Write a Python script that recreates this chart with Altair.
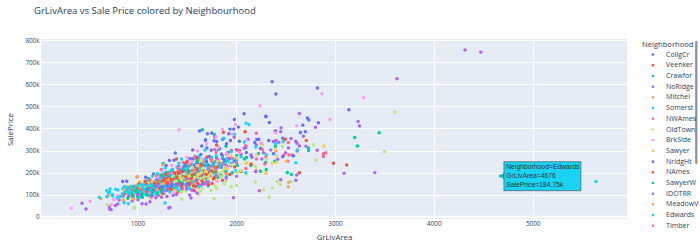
import altair as alt
import pandas as pd

NEIGHBORHOODS = ["CollgCr", "Veenker", "Crawfor", "NoRidge", "Mitchel", "Somerst", "NWAmes",
                 "OldTown", "BrkSide", "Sawyer", "NridgHt", "NAmes", "SawyerW", "IDOTRR",
                 "MeadowV", "Edwards", "Timber", "Gilbert", "StoneBr", "ClearCr", "NPkVill",
                 "Blmngtn", "BrDale", "SWISU", "Blueste"]

# (GrLivArea, SalePrice in thousands)
CollgCr = [(1710,208.5),(1786,223.5),(1262,181.5),(1494,192),(1598,245),(1324,255),(1371,256),(852,160),(893,161),(1040,136),(1144,154),(1204,171),(1228,178),(1268,168),(1302,201),(1329,194),(1354,186),(1386,196),(1414,228),(1436,216),(1458,204),(1484,241),(1507,229),(1522,181),(1549,203),(1573,214),(1604,197),(1626,226),(1647,239),(1666,211),(1693,262),(1728,273),(1752,251),(1774,243),(1802,266),(1834,231),(1861,276),(1888,254),(1918,291),(1953,241),(2004,259),(2048,282),(2097,314),(2158,271),(2247,309),(1117,127),(1063,146),(983,139),(1002,121),(1182,149),(1253,143),(1422,161),(1477,173),(1534,159),(1562,263),(1704,311),(1384,289),(1291,232),(1163,194),(1084,179),(1942,345),(1864,351),(1776,344),(1690,349),(1572,233),(1611,183),(1446,186),(1338,168),(1215,158),(1126,166),
           (1190,165),(1236,188),(1270,176),(1310,185),(1346,207),(1396,181),(1428,199),(1466,221),(1490,178),(1512,212),(1540,193),(1580,221),(1616,205),(1652,188),(1680,232),(1716,219),(1740,199),(1760,231),(1790,208),(1820,247),(1848,224),(1876,239),(1906,228),(1930,262),(1980,252)]
Veenker = [(1262,181),(2090,385),(1802,325),(1503,252),(1652,236),(2498,351),(1396,262),(1950,300),(1704,271),(2984,242),(3119,235),(1563,191)]
Crawfor = [(1717,140),(1658,394),(1779,373),(3447,381),(3200,359),(3227,321),(2518,201),(2559,192),(2731,312),(2733,300),(1254,146),(1497,191),(1383,164),(1604,216),(1698,252),(1822,229),(1903,261),(1452,179),(2006,278),(1103,131),(1548,171),(1297,201),(1962,199),(2148,232),(2297,246),(1198,114),(981,126),(1651,176),(1847,189),(1402,151),(2104,268),(1356,214),(2246,206),(1152,159),(1748,204),(1522,229),(2392,251),(1008,106),(1622,266),(1897,319),(1261,241),(1585,147),(1729,188)]
NoRidge = [(4316,755),(4476,745),(3627,625),(2640,468),(3234,432),(3247,411),(2802,405),(2454,403),(2377,341),(2404,345),(2431,337),(2603,342),(2616,333),(2640,321),(2529,312),(2819,301),(2276,290),(2421,261),(2120,351),(2451,385),(2555,355),(2680,365),(2204,325),(1922,265),(2035,300),(1980,360),(2150,280),(2706,320),(2350,302),(2080,310),(1902,231),(2616,298),(1854,236),(2260,262),(2500,290),(1796,250)]
Mitchel = [(1000,182),(1257,235),(2262,329),(2532,156),(2528,136),(630,83),(994,179),(864,117),(1098,128),(1204,152),(1318,139),(1402,171),(1497,152),(1603,183),(1702,169),(1798,211),(1904,192),(1149,114),(1247,144),(1052,121),(949,99),(1353,162),(1448,146),(1551,174),(1648,197),(1753,256),(2003,266),(1081,154),(1302,131),(1896,226),(2202,211),(1482,209),(1118,101),(1352,127),(1619,131),(1189,159),(926,135),(1422,188),(1290,118),
           (1030,140),(1120,147),(1170,136),(1230,158),(1380,151),(1460,165),(1520,141),(1580,168)]
Somerst = [(2100,424),(2130,418),(2083,339),(2475,340),(2620,303),(1203,196),(1298,178),(1401,224),(1499,207),(1602,251),(1704,229),(1797,276),(1903,262),(1249,171),(1352,213),(1448,186),(1553,238),(1649,205),(1752,268),(1848,239),(1951,296),(2198,316),(2304,281),(1097,161),(1153,184),(1222,152),(1322,194),(1421,242),(1518,199),(1623,274),(1722,219),(1818,302),(2002,249),(2398,331),(1378,167),(1482,228),(1578,189),(1683,301),(1782,248),(1876,356),(1984,374),(1282,221),(1178,139),(1261,201),(1606,231),(1447,262),(1527,176),(1696,258),
           (1230,181),(1270,189),(1330,205),(1360,182),(1410,191),(1460,214),(1510,222),(1540,205),(1570,214),(1640,219),(1670,241),(1710,236),(1740,211),(1770,231),(1830,226),(1860,268),(1890,244),(1920,251),(1970,263),(2050,271)]
NWAmes = [(2528,336),(2265,305),(2883,285),(2883,273),(2907,290),(2482,280),(2533,280),(2563,280),(2522,252),(1797,292),(1102,129),(1198,158),(1304,141),(1397,182),(1503,163),(1598,201),(1703,178),(1802,221),(1898,196),(2003,244),(2098,219),(2206,262),(1253,147),(1348,166),(1452,151),(1547,192),(1652,172),(1748,209),(1853,184),(1947,231),(2052,205),(2148,238),(2302,271),(1147,138),(1053,112),(1418,211),(1524,176),(1618,226),(1721,189),(2402,299),(1812,253),(1587,154),
          (1460,179),(1500,196),(1560,186),(1640,189),(1680,208),(1760,196),(1880,206),(1560,214)]
OldTown = [(3608,475),(3500,295),(2468,318),(2417,160),(2556,159),(2367,130),(2333,90),(1776,83),(1449,79),(724,55),(973,41),(968,40),(693,55),(2276,121),(2782,326),(2806,256),(1302,152),(1398,124),(1502,171),(1603,139),(1698,186),(1802,128),(1897,163),(2004,142),(2101,194),(2198,158),(1098,98),(1003,118),(902,84),(806,97),(1201,134),(1248,108),(1352,146),(1447,113),(1553,149),(1648,168),(1746,119),(1852,181),(1951,136),(1152,126),(1048,89),(947,103),(853,76),(1381,178),(1622,102),(2298,199),(2447,146),(1221,161),(1323,119),(1478,138),(1583,189),(1682,154),(1418,192),(1562,127),(1703,201),(1641,117),(1262,143),(1164,112),(1534,161),(1766,172),(985,131),
           (1080,126),(1130,92),(1180,141),(1230,98),(1280,131),(1330,157),(1370,121),(1410,137),(1460,156),(1490,118),(1520,146),(1600,152),(1660,131),(1720,160),(1790,140),(1880,150),(1070,112),(940,92),(880,109),(1120,118)]
BrkSide = [(334,39.3),(521,70),(733,55),(1004,112),(1096,119),(1207,131),(1296,124),(1398,141),(902,104),(804,94),(1504,133),(1594,152),(1704,146),(1048,98),(1152,116),(948,89),(1252,113),(1348,156),(1452,172),(1802,161),(1124,138),(870,122),(1206,96),(1580,118),(1030,128),(760,78),(1372,109),(1656,176),(1176,152),(986,141),
           (940,110),(1080,106),(1160,127),(1260,138),(1320,118)]
Sawyer = [(2265,329),(2407,247),(2363,242),(864,124),(903,138),(948,112),(1002,146),(1051,127),(1098,151),(1152,132),(1202,157),(1249,141),(1298,169),(1352,136),(1403,158),(1447,174),(1502,147),(1553,179),(1598,162),(1703,186),(1797,171),(1901,189),(998,119),(1104,137),(1197,122),(1303,148),(1398,131),(1148,161),(1252,118),(1052,104),(961,93),(1698,156),(1084,115),(1176,143),(1326,128),(1468,139),(1560,152),(1024,160),(1230,131),(1120,109),
          (880,132),(1010,138),(1070,145),(1130,128),(1190,149),(1270,152),(1330,145),(1380,139),(1430,162),(1520,158)]
NridgHt = [(2364,612),(2402,556),(2822,583),(3140,485),(2303,453),(2721,447),(2735,438),(2336,427),(2832,426),(2674,415),(2397,388),(2650,382),(2700,385),(2228,351),(2330,345),(2471,356),(2188,336),(2080,467),(1982,441),(2299,455),(2022,406),(1938,397),(1975,397),(1630,388),(1709,376),(1753,379),(1925,376),(2208,350),(2397,386),(2377,286),(2579,276),(2471,272),(1652,321),(1803,341),(1748,301),(1598,269),(1902,331),(2004,304),(1552,256),(1699,249),(1851,284),(1478,231),(2103,291),(1532,264),(1618,236),(1462,206),(1581,191),(1832,309),(1688,346),(1784,361),(1642,282),(1868,262),(2032,342),(1724,233),(1560,302)]
NAmes = [(1062,142),(1100,127),(1122,134),(1139,144),(1156,129),(1172,152),(1188,138),(1204,147),(1218,131),(1232,155),(1246,141),(1261,162),(1277,136),(1290,149),(1306,158),(1320,141),(1336,170),(1351,152),(1365,133),(1381,161),(1396,147),(1412,176),(1428,156),(1444,139),(1460,168),(1477,151),(1493,182),(1509,163),(1526,145),(1542,174),(1559,158),(1577,189),(1594,171),(1612,152),(1631,181),(1650,165),(1672,196),(1694,176),(1718,159),(1742,187),(1768,171),(1796,201),(1828,182),(1862,165),(1898,211),(1936,192),(1984,225),(2046,205),(2640,199),(2710,345),(1870,383),(1000,129),(982,114),(964,137),(946,122),(926,108),(908,131),(890,118),(872,104),(1018,151),(1036,119),(1078,161),(1094,105),(1112,172),(1148,112),(1196,183),(1242,118),(1286,193),(1342,122),(1398,201),(1454,127),(1522,205),(1588,137),(1660,214),(1720,145),(1790,226),(1126,96),(1262,104),(1408,112),(1576,119),(958,96),(2152,238),
         (1040,125),(1068,118),(1090,148),(1134,121),(1166,139),(1182,125),(1210,162),(1224,139),(1238,128),(1256,150),(1270,127),(1284,166),(1298,134),(1314,146),(1328,129),(1344,160),(1358,143),(1374,175),(1388,135),(1404,158),(1420,148),(1436,166),(1452,143),(1468,181),(1484,160),(1500,139),(1516,172),(1534,153),(1550,186),(1566,140),(1584,165),(1602,195),(1620,143),(1640,172),(1662,158),(1684,184),(1706,167),(1730,198),(1756,151),(1780,178)]
SawyerW = [(1118,172),(1236,159),(1312,196),(1387,178),(1474,213),(1566,187),(1641,226),(1782,203),(1867,244),(2011,232),(1264,141),(1339,183),(1428,162),(1529,201),(1678,181),(1724,229),(2084,262),(2226,287),(986,124),(944,107),(1493,148),(1161,138),(1612,251),(1818,179),(2304,214),(2396,318),(1042,98),(1371,134),(1709,164),(1446,224),(1247,188),(1896,209)]
IDOTRR = [(481,35),(440,61),(720,35),(734,32),(717,42),(801,58),(778,51),(1048,59),(1088,58),(1128,68),(1318,40),(1331,42),(1530,99),(1543,85),(1972,86),(2235,118),(912,94),(1006,77),(1094,109),(1187,86),(1282,119),(1396,101),(948,72),(1146,111),(1244,88),(1498,126),(1604,108),(816,76),(858,94),(1682,149),(1362,97),
          (960,85),(1040,101),(1210,98),(1300,92)]
MeadowV = [(712,97),(798,84),(904,108),(1004,92),(1092,126),(1197,104),(1296,141),(1404,118),(962,81),(1048,132),(1152,96),(864,75),(1252,146),(1060,110),(1138,86)]
Edwards = [(4676,184.75),(5642,160),(616,88),(690,91),(690,118),(724,126),(865,64),(909,60),(1280,62),(706,108),(752,94),(804,121),(847,103),(898,132),(952,97),(1004,141),(1046,112),(1097,128),(1151,147),(1203,109),(1252,136),(1298,119),(1352,158),(1398,131),(1447,166),(1504,142),(796,86),(903,117),(1002,99),(1104,139),(1196,124),(748,101),(852,128),(957,111),(1052,133),(1148,106),(1248,152),(1602,174),(1803,191),(1996,209),(2097,199),(1701,159),(1902,181),(2604,245),(1020,88),(1176,115),(1368,137),(930,122),(1080,102),(1628,138),
           (720,112),(780,125),(830,92),(870,137),(920,104),(975,129),(1012,118),(1030,147),(1070,125),(1110,98),(1130,143),(1168,131),(1188,101),(1220,142),(1264,125),(1310,141),(1330,112),(1384,148),(1420,120),(1470,151),(1530,128),(1560,159),(880,112),(940,138),(990,105),(1060,144),(1140,123),(1230,158),(1290,133),(1410,139)]
Timber = [(1412,221),(1538,236),(1627,229),(1744,262),(1816,258),(1902,284),(2012,301),(1318,198),(1206,182),(1128,167),(1566,208),(1660,252),(1735,224),(1866,241),(2096,322),(2204,378),(1464,246),(1950,266),(1582,274),(1392,172),(1688,195),(1242,214),(1782,305),(2290,239),(1516,183)]
Gilbert = [(1306,172),(1394,161),(1486,189),(1612,177),(1692,204),(1804,188),(1898,219),(2008,201),(2112,246),(2196,228),(1358,183),(1446,168),(1548,196),(1642,173),(1756,211),(1842,183),(1954,236),(2048,209),(1252,149),(1594,213),(1508,166),(1722,187),(2308,262),(2406,276),(1421,178),(1522,182),(1624,194),(1718,169),(1802,226),(1682,181),(1478,157),(1568,171),(1376,159),(1744,197),(1658,218),
           (1430,185),(1470,176),(1540,188),(1580,179),(1610,191),(1650,200),(1700,185),(1760,189),(1830,199),(1870,212)]
StoneBr = [(2242,503),(2868,557),(3288,539),(2950,441),(1422,394),(1860,397),(1955,376),(1502,269),(1608,298),(1702,331),(1796,362),(1992,418),(2104,348),(1254,204),(1348,232),(2398,381),(2612,412),(1904,288),(1548,252),(1206,178),(1660,262),(1822,315),(2250,334),(1440,226),(2035,290)]
ClearCr = [(1502,182),(1612,232),(1694,206),(1812,251),(1906,219),(2008,266),(2098,241),(2206,281),(1408,196),(2396,302),(2888,321),(1304,171),(1648,254),(1752,213),(2502,251),(1558,224),(1944,279),(2302,196)]
NPkVill = [(1218,128),(1302,141),(1396,146),(1504,148),(1098,124),(1252,136),(1346,139),(1454,151),(1160,121)]
Blmngtn = [(1302,176),(1414,196),(1488,181),(1602,214),(1698,192),(1806,226),(1352,168),(1448,205),(1556,189),(1646,237),(1752,208),(1252,161),(1504,246),(1598,264),(1402,178),(1548,174),(1372,199)]
BrDale = [(904,84),(952,96),(1002,91),(1048,103),(1098,99),(1152,112),(1204,108),(1252,123),(1006,109),(1102,118),(1196,127),(948,101),(1052,88),(1148,95),(1238,114),(980,119)]
SWISU = [(1004,101),(1096,113),(1196,127),(1302,124),(1402,147),(1498,142),(1604,167),(1712,158),(1796,186),(2004,183),(2196,204),(2604,165),(1252,109),(1346,151),(1448,131),(1552,120),(1652,146),(1148,94),(2451,168),(2613,189),(3092,197),(3403,200),(1898,176),(1502,172),(1204,143)]
Blueste = [(1200,124),(1260,151)]

POINTS = [CollgCr, Veenker, Crawfor, NoRidge, Mitchel, Somerst, NWAmes, OldTown, BrkSide,
          Sawyer, NridgHt, NAmes, SawyerW, IDOTRR, MeadowV, Edwards, Timber, Gilbert,
          StoneBr, ClearCr, NPkVill, Blmngtn, BrDale, SWISU, Blueste]

LEGEND_SHOWN = NEIGHBORHOODS[:17]
X_TICKS = [1000, 2000, 3000, 4000, 5000]
Y_TICKS = [0, 100000, 200000, 300000, 400000, 500000, 600000, 700000, 800000]

HOVER_NAME = "Edwards"
HOVER_G, HOVER_P = Edwards[0]

PLOTLY = ["#636EFA", "#EF553B", "#00CC96", "#AB63FA", "#FFA15A",
          "#19D3F3", "#FF6692", "#B6E880", "#FF97FF", "#FECB52"]
COLORS = [PLOTLY[i % len(PLOTLY)] for i in range(len(NEIGHBORHOODS))]

rows = []
for name, pts in zip(NEIGHBORHOODS, POINTS):
    for g, p in pts:
        rows.append({"Neighborhood": name, "GrLivArea": g, "SalePrice": p * 1000})
df = pd.DataFrame(rows)

FONT = "Open Sans"
TXT = "#2a3f5f"
xs = alt.Scale(domain=[25, 5955], nice=False, zero=False)
ys = alt.Scale(domain=[-10000, 805000], nice=False, zero=False)
x_axis = alt.Axis(values=X_TICKS, format="d", title="GrLivArea",
                  labelPadding=1.5, titlePadding=7)
y_axis = alt.Axis(values=Y_TICKS, title="SalePrice",
                  labelExpr="datum.value == 0 ? '0' : format(datum.value / 1000, 'd') + 'k'",
                  labelPadding=2, titlePadding=10)


def xy(base):
    return base.encode(x=alt.X("GrLivArea:Q", scale=xs, axis=x_axis),
                       y=alt.Y("SalePrice:Q", scale=ys, axis=y_axis))


zero = alt.Chart(pd.DataFrame({"SalePrice": [0]})).mark_rule(
    color="white", strokeWidth=2).encode(y=alt.Y("SalePrice:Q", scale=ys, axis=y_axis))

points = xy(alt.Chart(df).mark_circle(size=12, opacity=1)).encode(
    color=alt.Color("Neighborhood:N",
                    scale=alt.Scale(domain=NEIGHBORHOODS, range=COLORS),
                    legend=alt.Legend(values=LEGEND_SHOWN, title="Neighborhood")),
)

hover_df = pd.DataFrame({"GrLivArea": [HOVER_G], "SalePrice": [HOVER_P * 1000]})
hcol = PLOTLY[NEIGHBORHOODS.index(HOVER_NAME) % 10]
hbase = alt.Chart(hover_df)
arrow = xy(hbase.mark_point(shape="M-1,0L1,-1.6L1,1.6Z", filled=True, size=11, fill=hcol,
                            stroke="#444", strokeWidth=0.5, opacity=1, xOffset=1.7))
box = xy(hbase.mark_rect(fill=hcol, stroke="#444", strokeWidth=0.6,
                         xOffset=3.3, x2Offset=80.3, yOffset=-14.3, y2Offset=14.7)).encode(
    x2="GrLivArea:Q", y2="SalePrice:Q")
lines = [f"Neighborhood={HOVER_NAME}", f"GrLivArea={HOVER_G}", f"SalePrice={HOVER_P:g}k"]
texts = []
for i, t in enumerate(lines):
    texts.append(xy(hbase.mark_text(text=t, align="left", baseline="middle", dx=5.6,
                                    dy=-8.6 + 8.8 * i, font="Liberation Sans", fontSize=6.8,
                                    color="#333")))

scroll = alt.Chart(pd.DataFrame({"a": [0]})).mark_rule(
    color="#8a93a8", strokeWidth=2.3, strokeCap="round").encode(
    x=alt.value(655.3), y=alt.value(3), y2=alt.value(124))

chart = alt.layer(zero, points, arrow, box, *texts, scroll).properties(
    width=586, height=180, background="white",
    padding={"left": 41, "top": 39, "right": 73, "bottom": 27},
    autosize=alt.AutoSizeParams(type="none"),
    title=alt.TitleParams("GrLivArea vs Sale Price colored by Neighbourhood",
                          anchor="start", frame="group", font=FONT, fontSize=9.5,
                          fontWeight="normal", color=TXT, dx=-7, offset=22),
).configure_view(fill="#E5ECF6", stroke=None).configure_axis(
    grid=True, gridColor="white", gridWidth=1, domain=False, ticks=False,
    labelFont=FONT, labelFontSize=6.3, labelColor=TXT,
    titleFont=FONT, titleFontSize=7.8, titleColor=TXT, titleFontWeight="normal",
).configure_legend(
    orient="none", legendX=601, legendY=2, padding=0,
    titleFont=FONT, titleFontSize=7.6, titleFontWeight="normal", titleColor=TXT,
    titlePadding=2.5, labelFont=FONT, labelFontSize=7, labelColor=TXT,
    symbolType="circle", symbolSize=7, symbolStrokeWidth=0, symbolOffset=7.4,
    labelOffset=9.7, rowPadding=2.7,
)

chart.save("out.html", embed_options={"renderer": "svg", "actions": False})
